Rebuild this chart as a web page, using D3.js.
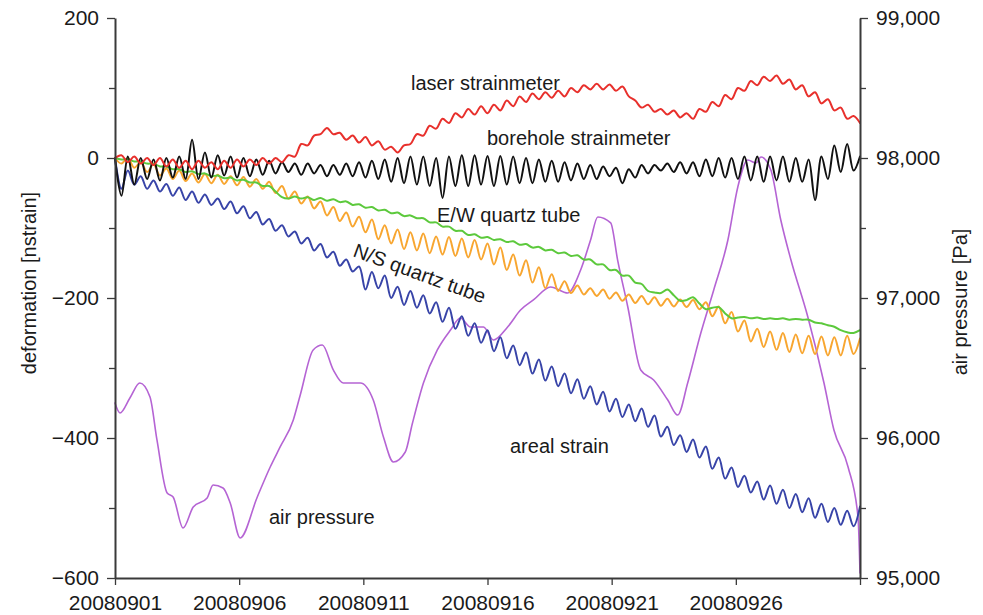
<!doctype html>
<html lang="en">
<head>
<meta charset="UTF-8">
<title>deformation and air pressure, September 2008</title>
<script src="https://d3js.org/d3.v7.min.js"></script>
<style>
body { margin: 0; background: #fff; }
svg text { font-family: "Liberation Sans", Arial, Helvetica, sans-serif; fill: #1a1a1a; }
.axis path, .axis line { stroke: #3a3a3a; }
.axis path { stroke-width: 2px; }
.axis line { stroke-width: 1.3px; }
.series { fill: none; stroke-linejoin: round; stroke-linecap: round; }
</style>
</head>
<body>
<div id="chart"></div>
<script>
// x axis: days after 2008-09-01 00:00
var tickDays = [0, 5, 10, 15, 20, 25, 30];
var tickLabels = ["20080901", "20080906", "20080911", "20080916", "20080921", "20080926", ""];
var leftTicks = [-600, -400, -200, 0, 200];
var leftMinor = [-500, -300, -100, 100];
var rightTicks = [95000, 96000, 97000, 98000, 99000];
var rightMinor = [95500, 96500, 97500, 98500];

// strain records are read at every tidal half period (30 days / 116 steps)
var tideDays = d3.range(117).map(function(i) { return i * 30 / 116; });

var laser = [0, 4, -6, 2, -8, 0, -10, 0, -12, -2, -14, -4, -16, -4, -14, -6, -16, -4, -14, -2,
  -12, -2, -10, 0, -8, 0, -6, 4, 2, 20, 18, 32, 34, 43, 34, 36, 26, 32, 22, 30,
  18, 24, 12, 16, 8, 18, 20, 34, 32, 46, 42, 56, 50, 64, 58, 70, 62, 74, 64, 76,
  68, 82, 74, 88, 80, 92, 84, 94, 86, 96, 88, 100, 94, 104, 98, 106, 98, 105, 96, 102,
  88, 82, 72, 76, 66, 70, 62, 68, 58, 64, 56, 70, 66, 80, 74, 90, 84, 100, 96, 110,
  104, 116, 110, 118, 106, 112, 98, 104, 88, 94, 78, 84, 68, 72, 56, 60, 50];

var borehole = [0, -54, 2, -38, 0, -30, -2, -32, 0, -28, 2, -30, 26, -30, 8, -28, 4, -25, 2, -28,
  0, -26, -2, -24, -4, -22, -6, -20, -8, -24, -8, -22, -10, -26, -10, -24, -8, -26, -6, -28,
  -4, -30, -2, -34, 0, -36, 2, -38, 2, -40, 0, -57, 2, -40, 4, -40, 4, -38, 3, -40,
  3, -38, 2, -36, 0, -36, -2, -34, -4, -34, -6, -32, -8, -30, -10, -30, -12, -26, -14, -36,
  -16, -28, -10, -22, -10, -18, -8, -20, -6, -22, -6, -26, -2, -26, 0, -28, 0, -30, 2, -32,
  2, -34, 2, -32, 2, -34, 0, -34, -2, -60, 2, -30, 18, -20, 20, -18, 2];

var ewTube = [0, -2, -2, -5, -5, -8, -8, -12, -12, -16, -16, -20, -19, -23, -22, -26, -25, -29, -28, -32,
  -31, -35, -35, -40, -40, -48, -56, -58, -55, -58, -56, -60, -57, -61, -59, -63, -62, -67, -66, -71,
  -70, -75, -74, -79, -78, -83, -82, -86, -86, -92, -92, -98, -98, -104, -104, -110, -109, -114, -113, -117,
  -116, -120, -119, -124, -123, -128, -127, -132, -131, -136, -135, -140, -139, -145, -145, -152, -152, -160, -160, -168,
  -168, -178, -180, -190, -192, -193, -188, -196, -204, -203, -199, -208, -216, -214, -213, -222, -229, -228, -227, -229,
  -228, -230, -229, -230, -229, -231, -230, -231, -231, -235, -236, -239, -241, -246, -249, -250, -246];

var nsTube = [0, -8, 0, -14, -6, -20, -9, -25, -15, -30, -18, -33, -22, -35, -23, -36, -24, -37, -26, -39,
  -27, -41, -30, -44, -34, -50, -40, -58, -48, -65, -55, -72, -62, -82, -70, -90, -78, -98, -84, -106,
  -88, -116, -96, -122, -102, -130, -106, -132, -108, -136, -112, -138, -113, -140, -115, -142, -117, -145, -122, -152,
  -128, -160, -138, -168, -146, -178, -156, -186, -166, -190, -176, -193, -182, -195, -186, -197, -188, -201, -192, -204,
  -195, -207, -197, -209, -199, -211, -201, -212, -202, -213, -203, -216, -206, -226, -212, -236, -220, -248, -232, -262,
  -244, -270, -248, -274, -250, -277, -252, -279, -254, -280, -255, -282, -256, -282, -254, -280, -258];

var areal = [0, -44, -18, -38, -26, -44, -32, -48, -37, -54, -42, -60, -48, -64, -52, -67, -58, -73, -62, -79,
  -69, -86, -77, -95, -87, -104, -96, -112, -105, -122, -114, -132, -123, -142, -134, -154, -145, -162, -155, -188,
  -163, -186, -168, -200, -184, -210, -190, -214, -196, -222, -206, -234, -214, -244, -226, -254, -236, -264, -246, -276,
  -256, -286, -268, -296, -278, -308, -288, -318, -298, -326, -308, -336, -316, -344, -326, -352, -334, -362, -344, -370,
  -352, -376, -358, -384, -368, -398, -384, -410, -396, -420, -402, -428, -412, -444, -428, -458, -442, -470, -454, -478,
  -462, -488, -468, -494, -474, -500, -480, -506, -486, -514, -494, -520, -500, -524, -504, -526, -498];

// air pressure [Pa], right axis
var pressureDays = [0, 0.2, 0.6, 1.0, 1.41, 1.69, 2.1, 2.34, 2.74, 3.15, 3.71, 3.95, 4.35, 4.64, 5.04,
  5.73, 6.25, 6.65, 7.18, 7.46, 7.98, 8.35, 8.79, 9.19, 9.88, 10.4, 10.81, 11.21, 11.69, 11.97,
  12.42, 12.98, 13.51, 13.91, 14.31, 14.84, 15.24, 15.81, 16.33, 16.85, 17.54, 18.23, 18.75, 19.15, 19.44,
  19.96, 20.24, 20.65, 21.17, 21.69, 22.26, 22.66, 23.06, 23.59, 24.11, 24.68, 25.08, 25.48, 25.81, 26.01,
  26.41, 26.81, 27.22, 27.9, 28.55, 28.95, 29.52, 29.92, 30.0];
var pressure = [96250, 96179, 96286, 96393, 96293, 95986, 95607, 95579, 95357, 95507, 95571, 95664, 95643, 95536, 95286,
  95579, 95793, 95936, 96129, 96307, 96629, 96664, 96486, 96393, 96393, 96271, 96007, 95829, 95900, 96100,
  96393, 96629, 96771, 96857, 96793, 96793, 96700, 96793, 96914, 96986, 97079, 97036, 97200, 97414, 97579,
  97536, 97271, 96936, 96486, 96414, 96271, 96164, 96393, 96750, 97057, 97414, 97793, 97986, 97964, 98007,
  97914, 97557, 97271, 96864, 96393, 96057, 95793, 95436, 95036];

var width = 983, height = 615;
var svg = d3.select("#chart").append("svg")
    .attr("width", width)
    .attr("height", height);

var x = d3.scaleLinear().domain([0, 30]).range([115, 860]);
var yLeft = d3.scaleLinear().domain([-600, 200]).range([578, 18]);
var yRight = d3.scaleLinear().domain([95000, 99000]).range([578, 18]);

// series
var strainLine = d3.line()
    .x(function(d, i) { return x(tideDays[i]); })
    .y(function(d) { return yLeft(d); })
    .curve(d3.curveCatmullRom.alpha(0.5));

var pressureLine = d3.line()
    .x(function(d, i) { return x(pressureDays[i]); })
    .y(function(d) { return yRight(d); })
    .curve(d3.curveMonotoneX);

svg.append("path").attr("class", "series")
    .attr("d", pressureLine(pressure))
    .attr("stroke", "#b564d4").attr("stroke-width", 1.6);

var strainSeries = [
    {values: areal, color: "#3844a8"},
    {values: nsTube, color: "#f8a630"},
    {values: ewTube, color: "#5cc93c"},
    {values: borehole, color: "#111111"},
    {values: laser, color: "#e8302c"}
];
strainSeries.forEach(function(s) {
    svg.append("path").attr("class", "series")
        .attr("d", strainLine(s.values))
        .attr("stroke", s.color).attr("stroke-width", 2);
});

// axes
var bottomAxis = svg.append("g").attr("class", "axis")
    .attr("transform", "translate(0,578)")
    .call(d3.axisBottom(x).tickValues(tickDays).tickSize(7).tickSizeOuter(0).tickPadding(10)
        .tickFormat(function(d, i) { return tickLabels[i]; }));

var leftAxis = svg.append("g").attr("class", "axis")
    .attr("transform", "translate(115,0)")
    .call(d3.axisLeft(yLeft).tickValues(leftTicks).tickSize(8).tickSizeOuter(0).tickPadding(8));
svg.append("g").attr("class", "axis")
    .attr("transform", "translate(115,0)")
    .call(d3.axisLeft(yLeft).tickValues(leftMinor).tickSize(6).tickFormat(""))
    .select(".domain").remove();

var rightAxis = svg.append("g").attr("class", "axis")
    .attr("transform", "translate(860,0)")
    .call(d3.axisRight(yRight).tickValues(rightTicks).tickSize(8).tickSizeOuter(0).tickPadding(8)
        .tickFormat(d3.format(",")));
svg.append("g").attr("class", "axis")
    .attr("transform", "translate(860,0)")
    .call(d3.axisRight(yRight).tickValues(rightMinor).tickSize(6).tickFormat(""))
    .select(".domain").remove();

svg.selectAll(".axis text")
    .style("font-size", "21px")
    .attr("fill", "#1a1a1a");

// axis titles
svg.append("text")
    .attr("transform", "translate(36,283) rotate(-90)")
    .attr("text-anchor", "middle")
    .style("font-size", "20px")
    .text("deformation [nstrain]");

svg.append("text")
    .attr("transform", "translate(967,302) rotate(-90)")
    .attr("text-anchor", "middle")
    .style("font-size", "20px")
    .text("air pressure [Pa]");

// series labels
var labels = [
    {text: "laser strainmeter", x: 411, y: 90, angle: 0},
    {text: "borehole strainmeter", x: 487, y: 145, angle: 0},
    {text: "E/W quartz tube", x: 437, y: 222, angle: 0},
    {text: "N/S quartz tube", x: 352, y: 256, angle: 20},
    {text: "areal strain", x: 510, y: 453, angle: 0},
    {text: "air pressure", x: 269, y: 524, angle: 0}
];
labels.forEach(function(l) {
    svg.append("text")
        .attr("transform", "translate(" + l.x + "," + l.y + ") rotate(" + l.angle + ")")
        .style("font-size", "20px")
        .text(l.text);
});
</script>
</body>
</html>
